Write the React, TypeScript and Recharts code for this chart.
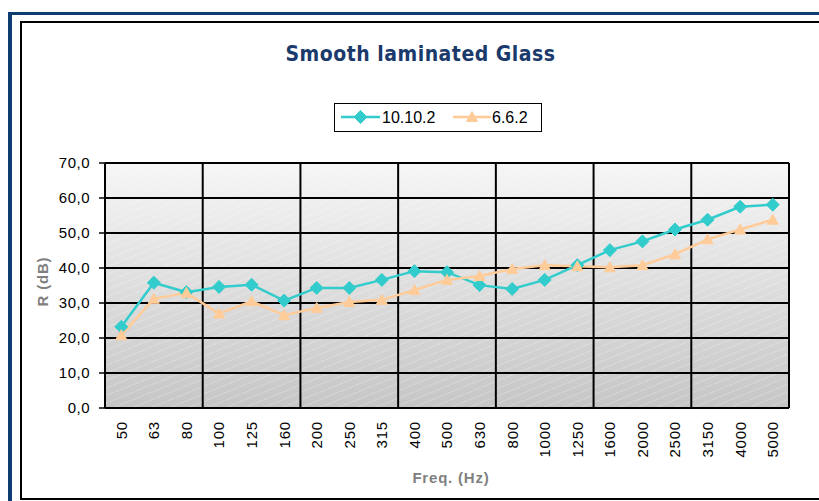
import React from "react";
import { LineChart, Line, XAxis, YAxis, CartesianGrid } from "recharts";

const freqs = ["50", "63", "80", "100", "125", "160", "200", "250", "315", "400", "500", "630", "800", "1000", "1250", "1600", "2000", "2500", "3150", "4000", "5000"];
const glass10 = [23.2, 35.8, 33.1, 34.6, 35.2, 30.7, 34.3, 34.3, 36.6, 39.1, 38.8, 35.1, 34.0, 36.6, 40.8, 45.1, 47.6, 51.0, 53.8, 57.5, 58.1];
const glass6 = [20.8, 31.2, 32.9, 27.0, 30.5, 26.5, 28.6, 30.3, 30.9, 33.7, 36.6, 37.7, 39.7, 40.8, 40.5, 40.2, 40.8, 43.9, 48.2, 51.0, 53.8];
const yTicks = [0, 10, 20, 30, 40, 50, 60, 70];
const groupTicks = [0, 3, 6, 9, 12, 15, 18, 21];
const labelTicks = freqs.map((_, i) => i + 0.5);

const data = freqs.map((f, i) => ({ x: i + 0.5, f, a: glass10[i], b: glass6[i] }));

const TEAL = "#33cccc";
const PEACH = "#ffcc99";
const FONT = "'Liberation Sans', Arial, sans-serif";

function Diamond({ cx, cy }: any) {
  if (cx == null || cy == null) return null;
  const r = 6.5;
  return (
    <polygon
      points={`${cx},${cy - r} ${cx + r},${cy} ${cx},${cy + r} ${cx - r},${cy}`}
      fill={TEAL}
      stroke={TEAL}
      strokeWidth={1}
    />
  );
}

function Triangle({ cx, cy }: any) {
  if (cx == null || cy == null) return null;
  return (
    <polygon
      points={`${cx},${cy - 5.5} ${cx + 5.5},${cy + 4.5} ${cx - 5.5},${cy + 4.5}`}
      fill={PEACH}
      stroke={PEACH}
      strokeWidth={1}
    />
  );
}

function FreqTick({ x, y, payload }: any) {
  const label = freqs[Math.floor(payload.value)];
  const ty = y + 13;
  return (
    <text
      x={x}
      y={ty}
      transform={`rotate(-90, ${x}, ${ty})`}
      textAnchor="end"
      dy="0.36em"
      fontSize={15}
      fontFamily={FONT}
      letterSpacing={0.8}
      fill="#000"
    >
      {label}
    </text>
  );
}

const EmptyTick = () => <g />;

function YTitle({ viewBox }: any) {
  const x = viewBox.x + 43;
  const y = viewBox.y + viewBox.height / 2 - 4;
  return (
    <text
      x={x}
      y={y}
      transform={`rotate(-90, ${x}, ${y})`}
      textAnchor="middle"
      dy="0.36em"
      fontSize={15}
      fontWeight="bold"
      fontFamily={FONT}
      letterSpacing={0.8}
      fill="#808080"
    >
      R (dB)
    </text>
  );
}

function XTitle({ viewBox }: any) {
  return (
    <text
      x={viewBox.x + viewBox.width / 2 + 4}
      y={viewBox.y + 75}
      textAnchor="middle"
      fontSize={15}
      fontWeight="bold"
      fontFamily={FONT}
      letterSpacing={0.8}
      fill="#808080"
    >
      Freq. (Hz)
    </text>
  );
}

function LegendBox() {
  return (
    <div
      style={{
        position: "absolute",
        left: 334,
        top: 103,
        width: 208,
        height: 29,
        boxSizing: "border-box",
        border: "1px solid #000",
        background: "#fff",
        fontFamily: FONT,
        fontSize: 16,
      }}
    >
      <svg width={208} height={29} style={{ position: "absolute", left: -1, top: -1 }}>
        <line x1={7} x2={46} y1={14} y2={14} stroke={TEAL} strokeWidth={2.5} />
        <Diamond cx={26.5} cy={14} />
        <line x1={119} x2={157} y1={14} y2={14} stroke={PEACH} strokeWidth={2.5} />
        <Triangle cx={138} cy={14} />
      </svg>
      <span style={{ position: "absolute", left: 47, top: 0, lineHeight: "27px" }}>10.10.2</span>
      <span style={{ position: "absolute", left: 157, top: 0, lineHeight: "27px" }}>6.6.2</span>
    </div>
  );
}

export default function App() {
  return (
    <div
      style={{
        position: "absolute",
        left: 0,
        top: 0,
        width: 819,
        height: 501,
        overflow: "hidden",
        background: "#fff",
      }}
    >
      <div
        style={{
          position: "absolute",
          left: 8,
          top: 12,
          width: 900,
          height: 600,
          boxSizing: "border-box",
          borderLeft: "4px solid #0e3d72",
          borderTop: "3.5px solid #0e3d72",
        }}
      />
      <div
        style={{
          position: "absolute",
          left: 20,
          top: 21,
          width: 900,
          height: 479,
          boxSizing: "border-box",
          border: "2px solid #000",
        }}
      />
      <div
        style={{
          position: "absolute",
          left: 0,
          top: 41.5,
          width: 841,
          textAlign: "center",
          fontFamily: "'DejaVu Sans Condensed', 'DejaVu Sans', sans-serif",
          fontStretch: "condensed",
          fontWeight: "bold",
          fontSize: 21,
          letterSpacing: 0.5,
          lineHeight: "24px",
          color: "#1a3a6b",
        }}
      >
        Smooth laminated Glass
      </div>
      <LegendBox />
      <div style={{ position: "absolute", left: 0, top: 0 }}>
        <LineChart width={819} height={501} data={data} margin={{ top: 163, right: 30, left: 0, bottom: 13 }}>
          <defs>
            <linearGradient id="plotBg" x1="0" y1="0" x2="0" y2="1">
              <stop offset="0%" stopColor="#f6f6f6" />
              <stop offset="100%" stopColor="#c6c6c6" />
            </linearGradient>
            <pattern id="stripes" width={9} height={7} patternUnits="userSpaceOnUse" patternTransform="rotate(-22)">
              <line x1={0} y1={0.5} x2={9} y2={0.5} stroke="#ffffff" strokeOpacity={0.25} strokeWidth={1} strokeDasharray="4 1" />
            </pattern>
          </defs>
          <CartesianGrid xAxisId="g" fill="url(#plotBg)" horizontal={false} vertical={false} />
          <CartesianGrid xAxisId="g" fill="url(#stripes)" stroke="#000" strokeWidth={2} strokeDasharray="" />
          <XAxis
            xAxisId="g"
            type="number"
            dataKey="x"
            domain={[0, 21]}
            ticks={groupTicks}
            interval={0}
            height={0}
            tick={EmptyTick}
            tickSize={7}
            axisLine={{ stroke: "#000", strokeWidth: 2 }}
            tickLine={{ stroke: "#000", strokeWidth: 1.5 }}
          />
          <XAxis
            xAxisId="l"
            type="number"
            dataKey="x"
            domain={[0, 21]}
            ticks={labelTicks}
            interval={0}
            height={80}
            axisLine={false}
            tickLine={false}
            tickSize={0}
            tickMargin={0}
            tick={FreqTick}
            label={{ content: XTitle }}
          />
          <YAxis
            type="number"
            domain={[0, 70]}
            ticks={yTicks}
            interval={0}
            width={105}
            tickSize={6}
            tickMargin={9}
            tickFormatter={(v: number) => v.toFixed(1).replace(".", ",")}
            tick={{ fontSize: 15, fontFamily: FONT, fill: "#000", letterSpacing: 0.5 }}
            axisLine={{ stroke: "#000", strokeWidth: 2 }}
            tickLine={{ stroke: "#000", strokeWidth: 1.5 }}
            label={{ content: YTitle }}
          />
          <Line
            xAxisId="g"
            dataKey="a"
            name="10.10.2"
            stroke={TEAL}
            strokeWidth={2.5}
            isAnimationActive={false}
            dot={(p: any) => <Diamond key={`a${p.index}`} cx={p.cx} cy={p.cy} />}
            activeDot={false}
          />
          <Line
            xAxisId="g"
            dataKey="b"
            name="6.6.2"
            stroke={PEACH}
            strokeWidth={2.5}
            isAnimationActive={false}
            dot={(p: any) => <Triangle key={`b${p.index}`} cx={p.cx} cy={p.cy} />}
            activeDot={false}
          />
        </LineChart>
      </div>
    </div>
  );
}
